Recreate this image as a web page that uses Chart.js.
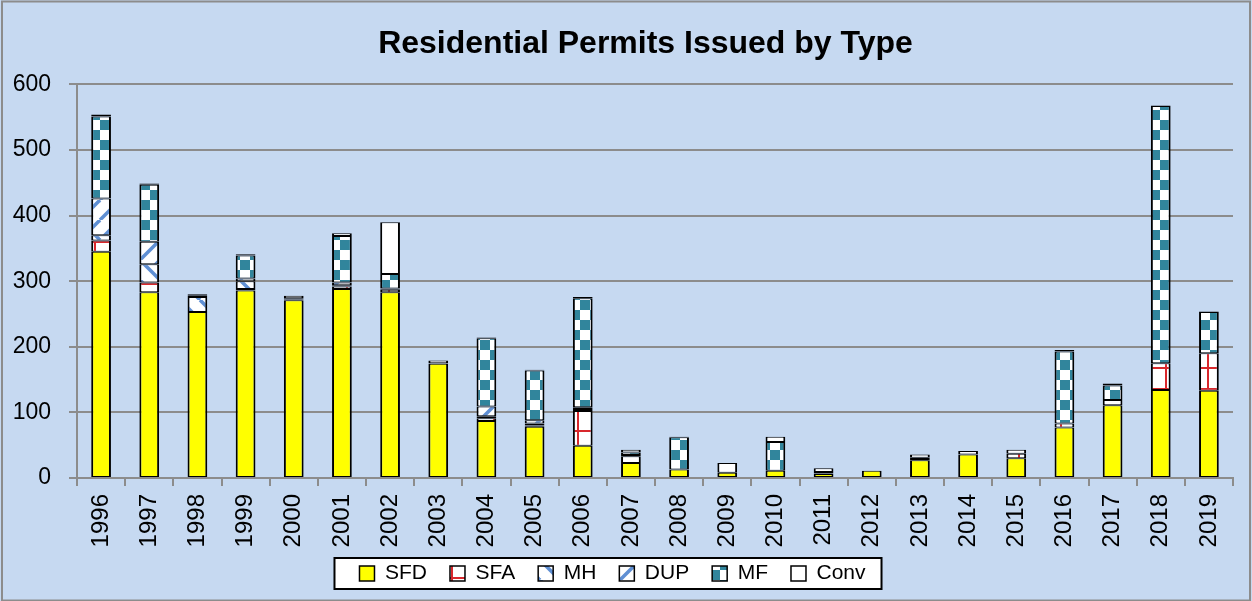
<!DOCTYPE html>
<html>
<head>
<meta charset="utf-8">
<title>Residential Permits Issued by Type</title>
<script src="https://cdn.jsdelivr.net/npm/chart.js@4.4.1/dist/chart.umd.min.js"></script>
<style>
    html, body { margin: 0; padding: 0; background: #C6D9F1; }
    #myChart { display: block; }
</style>
</head>
<body>
<canvas id="myChart" width="1252" height="601"></canvas>
<script>
const years = ['1996', '1997', '1998', '1999', '2000', '2001', '2002', '2003', '2004', '2005', '2006', '2007',
               '2008', '2009', '2010', '2011', '2012', '2013', '2014', '2015', '2016', '2017', '2018', '2019'];

const sfd  = [345, 283, 253, 286, 271, 288, 283, 174, 87, 78, 49, 23, 13, 8, 11, 6, 11, 27, 36, 30, 77, 111, 134, 133];
const sfa  = [17, 15, 0, 2, 1, 4, 4, 1, 4, 2, 53, 10, 0, 0, 0, 1, 0, 2, 0, 7, 6, 8, 41, 57];
const mh   = [8, 28, 23, 12, 0, 2, 2, 0, 3, 3, 3, 2, 0, 0, 0, 0, 0, 0, 0, 0, 0, 0, 0, 0];
const dup  = [56, 34, 0, 4, 0, 4, 0, 0, 15, 5, 3, 0, 0, 0, 0, 0, 0, 0, 0, 0, 0, 0, 0, 0];
const mf   = [125, 87, 2, 35, 2, 71, 22, 0, 104, 76, 166, 4, 49, 0, 44, 2, 0, 2, 0, 0, 110, 22, 392, 63];
const conv = [3, 2, 2, 2, 4, 4, 79, 4, 1, 1, 2, 4, 1, 15, 8, 6, 0, 5, 5, 6, 2, 3, 1, 1];

const yTicks = [0, 100, 200, 300, 400, 500, 600];

const canvas = document.getElementById('myChart');
const ctx = canvas.getContext('2d');

// excel-like fill patterns
function makePattern(size, draw) {
    const tile = document.createElement('canvas');
    tile.width = size;
    tile.height = size;
    const g = tile.getContext('2d');
    g.fillStyle = '#ffffff';
    g.fillRect(0, 0, size, size);
    draw(g, size);
    return ctx.createPattern(tile, 'repeat');
}

function diagonal(up) {
    return makePattern(20, function (g, s) {
        g.strokeStyle = '#5F8FD3';
        g.lineWidth = 3.5;
        for (let k = -1; k <= 1; k++) {
            g.beginPath();
            if (up) {
                g.moveTo(k * s, s);
                g.lineTo(k * s + s, 0);
            } else {
                g.moveTo(k * s, 0);
                g.lineTo(k * s + s, s);
            }
            g.stroke();
        }
    });
}

const sfaFill = makePattern(21, function (g, s) {
    g.fillStyle = '#D8282C';
    g.fillRect(0, 10, s, 2);
    g.fillRect(10, 0, 2, s);
});
const mhFill = diagonal(false);
const dupFill = diagonal(true);
const mfFill = makePattern(20, function (g, s) {
    g.fillStyle = '#31859C';
    g.fillRect(0, 0, 10, 10);
    g.fillRect(10, 10, 10, 10);
});

const gridGrey = '#8C8C8C';
const fontName = "'Liberation Sans', Arial, sans-serif";

function series(label, data, fill) {
    return {
        label: label,
        data: data,
        backgroundColor: fill,
        borderColor: '#000000',
        borderWidth: { top: 1, bottom: 1, left: 2, right: 2 },
        borderSkipped: false,
        barPercentage: 0.41,
        categoryPercentage: 1.0
    };
}

const framePlugin = {
    id: 'frame',
    afterLayout(chart) {
        // title centred over the plot, legend nudged like the original
        chart.titleBlock.left += 29;
        chart.titleBlock.right += 29;
        const lg = chart.legend;
        const dy = 540 - lg.top;
        lg.top += dy;
        lg.bottom += dy;
        lg.left -= 4;
        lg.right -= 4;
    },
    beforeDraw(chart) {
        const c = chart.ctx;
        c.save();
        c.fillStyle = '#C6D9F1';
        c.fillRect(0, 0, chart.width, chart.height);
        c.strokeStyle = gridGrey;
        c.lineWidth = 2;
        c.strokeRect(2, 1.5, chart.width - 4, chart.height - 2);

        const boxes = chart.legend.legendHitBoxes;
        if (boxes && boxes.length) {
            let l = Infinity, r = -Infinity, t = Infinity, b = -Infinity;
            boxes.forEach(function (h) {
                l = Math.min(l, h.left);
                r = Math.max(r, h.left + h.width);
                t = Math.min(t, h.top);
                b = Math.max(b, h.top + h.height);
            });
            const x0 = l - 25, x1 = r + 16, y0 = t - 5, y1 = b + 5;
            c.fillStyle = '#ffffff';
            c.fillRect(x0, y0, x1 - x0, y1 - y0);
            c.strokeStyle = '#000000';
            c.lineWidth = 2;
            c.strokeRect(x0, y0, x1 - x0, y1 - y0);
        }
        c.restore();
    }
};

const chart = new Chart(ctx, {
    type: 'bar',
    data: {
        labels: years,
        datasets: [
            series('SFD', sfd, '#FFFF00'),
            series('SFA', sfa, sfaFill),
            series('MH', mh, mhFill),
            series('DUP', dup, dupFill),
            series('MF', mf, mfFill),
            series('Conv', conv, '#FFFFFF')
        ]
    },
    options: {
        responsive: false,
        animation: false,
        layout: { padding: { left: 0, right: 19, top: 4, bottom: 0 } },
        plugins: {
            title: {
                display: true,
                text: 'Residential Permits Issued by Type',
                color: '#000000',
                font: { family: fontName, size: 32, weight: 'bold' },
                padding: { top: 21, bottom: 21 }
            },
            legend: {
                position: 'bottom',
                labels: {
                    color: '#000000',
                    font: { family: fontName, size: 21 },
                    boxWidth: 15,
                    boxHeight: 15,
                    padding: 23,
                    generateLabels(chart) {
                        const items = Chart.defaults.plugins.legend.labels.generateLabels(chart);
                        items.forEach(function (it) { it.lineWidth = 1.5; });
                        return items;
                    }
                }
            },
            tooltip: { enabled: false }
        },
        scales: {
            x: {
                stacked: true,
                afterFit(scale) { scale.height = 69; },
                grid: { drawOnChartArea: false, drawTicks: true, tickLength: 8, color: gridGrey, lineWidth: 2 },
                border: { color: gridGrey, width: 2 },
                ticks: {
                    color: '#000000',
                    font: { family: fontName, size: 24 },
                    minRotation: 90,
                    maxRotation: 90,
                    padding: 8
                }
            },
            y: {
                stacked: true,
                min: yTicks[0],
                max: yTicks[yTicks.length - 1],
                afterBuildTicks(scale) {
                    scale.ticks = yTicks.map(function (v) { return { value: v }; });
                },
                afterFit(scale) { scale.width = 77; },
                grid: { color: gridGrey, lineWidth: 2, tickLength: 8 },
                border: { color: gridGrey, width: 2 },
                ticks: {
                    color: '#000000',
                    font: { family: fontName, size: 23 },
                    padding: 18
                }
            }
        }
    },
    plugins: [framePlugin]
});
</script>
</body>
</html>
